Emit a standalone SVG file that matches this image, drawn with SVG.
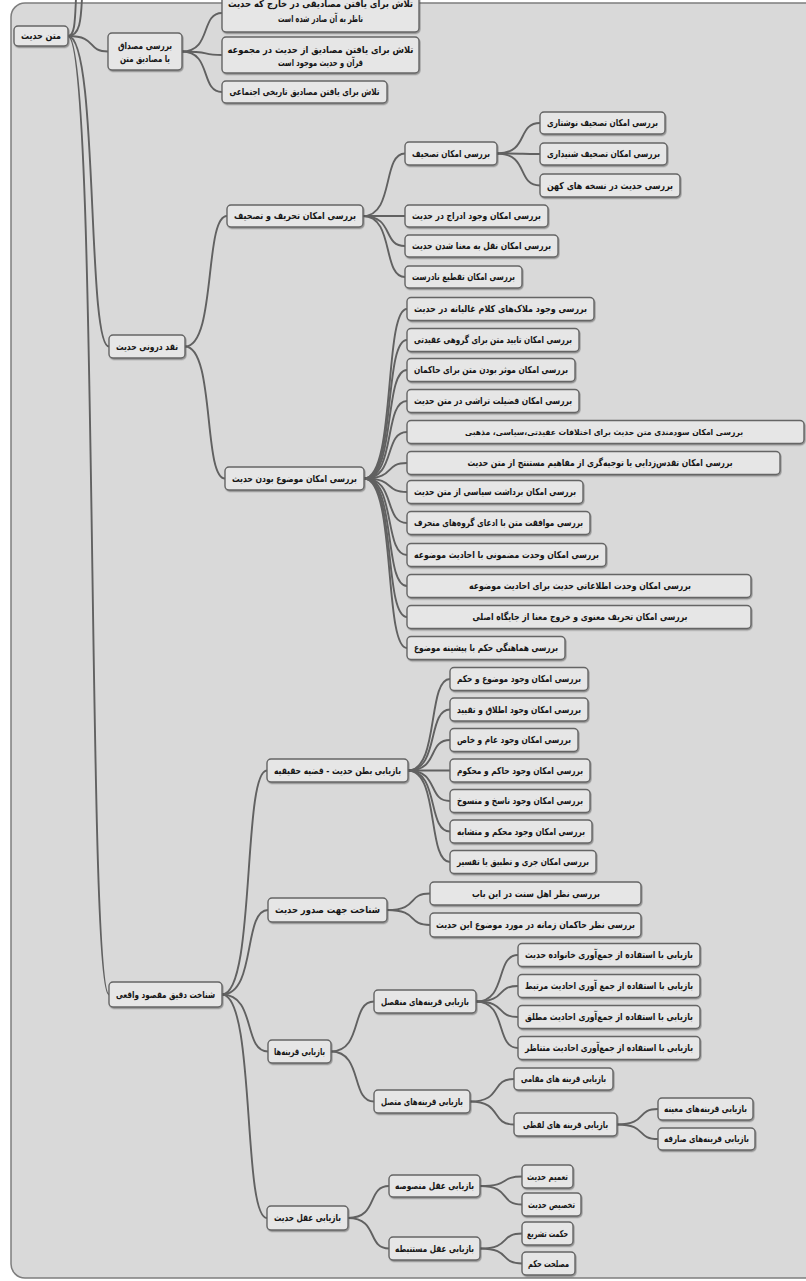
<svg xmlns="http://www.w3.org/2000/svg" width="806" height="1281" viewBox="0 0 806 1281">
<defs>
<filter id="sh" x="-10%" y="-30%" width="120%" height="170%">
<feDropShadow dx="0.8" dy="1.3" stdDeviation="0.5" flood-color="#3a3a3a" flood-opacity="0.45"/>
</filter>
<style>
.node rect{fill:#e6e6e6;stroke:#656565;stroke-width:1.4;filter:url(#sh)}
.node text{font-family:"DejaVu Sans",sans-serif;font-weight:bold;font-size:9.5px;fill:#151515;text-anchor:middle;direction:rtl}
.node text.sm{font-size:8.3px}
#connectors path{fill:none;stroke:#616161;stroke-width:1.9;stroke-linecap:round}
</style>
</defs>
<rect x="0" y="0" width="806" height="1281" fill="#ffffff"/>
<rect x="11" y="3" width="830" height="1275" rx="14" fill="#d9d9d9" stroke="#7d7d7d" stroke-width="1.5"/>

<g id="connectors">
<path d="M68 36 C98 36 86 51.5 108 51.5"/>
<path d="M68 36 C98.75 36 86.45 346.5 109 346.5"/>
<path d="M68 36 C98.75 36 86.45 994.5 109 994.5"/>
<path d="M68 36 C75 36 75 20 76 -2"/>
<path d="M68 36 C80 36 81 20 82 -2"/>
<path d="M182 51.5 C212 51.5 200 13 222 13"/>
<path d="M182 51.5 C212 51.5 200 55 222 55"/>
<path d="M182 51.5 C212 51.5 200 92 222 92"/>
<path d="M185 346.5 C216.5 346.5 203.9 216 227 216"/>
<path d="M185 346.5 C215 346.5 203 478.5 225 478.5"/>
<path d="M363 216 C394.5 216 381.9 153.5 405 153.5"/>
<path d="M363 216 L405 216"/>
<path d="M363 216 C394.5 216 381.9 246 405 246"/>
<path d="M363 216 C394.5 216 381.9 277 405 277"/>
<path d="M497 153.5 C529.25 153.5 516.35 123 540 123"/>
<path d="M497 153.5 C529.25 153.5 516.35 154 540 154"/>
<path d="M497 153.5 C529.25 153.5 516.35 185.5 540 185.5"/>
<path d="M364 478.5 C396.25 478.5 383.35 309 407 309"/>
<path d="M364 478.5 C396.25 478.5 383.35 340 407 340"/>
<path d="M364 478.5 C396.25 478.5 383.35 370 407 370"/>
<path d="M364 478.5 C396.25 478.5 383.35 401 407 401"/>
<path d="M364 478.5 C396.25 478.5 383.35 432 407 432"/>
<path d="M364 478.5 C396.25 478.5 383.35 463 407 463"/>
<path d="M364 478.5 C396.25 478.5 383.35 492 407 492"/>
<path d="M364 478.5 C396.25 478.5 383.35 523 407 523"/>
<path d="M364 478.5 C396.25 478.5 383.35 555 407 555"/>
<path d="M364 478.5 C396.25 478.5 383.35 586 407 586"/>
<path d="M364 478.5 C396.25 478.5 383.35 617 407 617"/>
<path d="M364 478.5 C396.25 478.5 383.35 648 407 648"/>
<path d="M222 994.5 C255.75 994.5 242.25 770.5 267 770.5"/>
<path d="M222 994.5 C256.5 994.5 242.7 910 268 910"/>
<path d="M222 994.5 C256.5 994.5 242.7 1051.5 268 1051.5"/>
<path d="M222 994.5 C255.75 994.5 242.25 1218 267 1218"/>
<path d="M408 770.5 C439.5 770.5 426.9 679 450 679"/>
<path d="M408 770.5 C439.5 770.5 426.9 709.5 450 709.5"/>
<path d="M408 770.5 C439.5 770.5 426.9 740 450 740"/>
<path d="M408 770.5 L450 770.5"/>
<path d="M408 770.5 C439.5 770.5 426.9 801 450 801"/>
<path d="M408 770.5 C439.5 770.5 426.9 831.5 450 831.5"/>
<path d="M408 770.5 C439.5 770.5 426.9 862 450 862"/>
<path d="M387 910 C419.25 910 406.35 893.5 430 893.5"/>
<path d="M387 910 C419.25 910 406.35 925 430 925"/>
<path d="M331 1051.5 C363.25 1051.5 350.35 1001.5 374 1001.5"/>
<path d="M331 1051.5 C363.25 1051.5 350.35 1101.5 374 1101.5"/>
<path d="M476 1001.5 C507.5 1001.5 494.9 955 518 955"/>
<path d="M476 1001.5 C507.5 1001.5 494.9 986 518 986"/>
<path d="M476 1001.5 C507.5 1001.5 494.9 1017 518 1017"/>
<path d="M476 1001.5 C507.5 1001.5 494.9 1048 518 1048"/>
<path d="M470 1101.5 C503 1101.5 489.8 1079 514 1079"/>
<path d="M470 1101.5 C503 1101.5 489.8 1124.5 514 1124.5"/>
<path d="M617 1124.5 C647.75 1124.5 635.45 1109 658 1109"/>
<path d="M617 1124.5 C647.75 1124.5 635.45 1139 658 1139"/>
<path d="M348 1218 C378.75 1218 366.45 1186 389 1186"/>
<path d="M348 1218 C378.75 1218 366.45 1248.5 389 1248.5"/>
<path d="M480 1186 C511.5 1186 498.9 1176.5 522 1176.5"/>
<path d="M480 1186 C511.5 1186 498.9 1204.5 522 1204.5"/>
<path d="M480 1248.5 C511.5 1248.5 498.9 1233.5 522 1233.5"/>
<path d="M480 1248.5 C511.5 1248.5 498.9 1263.5 522 1263.5"/>
</g>

<g id="n-root" class="node"><rect x="14" y="26" width="54" height="20" rx="4"/><text x="41" y="39.3" textLength="40" lengthAdjust="spacingAndGlyphs">متن حدیث</text></g>

<g id="n-a" class="node"><rect x="108" y="33" width="74" height="37" rx="4"/><text x="145" y="48.5" textLength="54" lengthAdjust="spacingAndGlyphs">بررسی مصداق</text><text x="145" y="61.5" textLength="50" lengthAdjust="spacingAndGlyphs">یا مصادیق متن</text></g>
<g id="n-a1" class="node"><rect x="222" y="-6" width="197" height="38" rx="4"/><text x="320.5" y="7" textLength="185" lengthAdjust="spacingAndGlyphs">تلاش برای یافتن مصادیقی در خارج که حدیث</text><text x="320.5" y="22" textLength="85" lengthAdjust="spacingAndGlyphs">ناظر به آن صادر شده است</text></g>
<g id="n-a2" class="node"><rect x="222" y="37" width="197" height="36" rx="4"/><text x="320.5" y="53" textLength="186" lengthAdjust="spacingAndGlyphs">تلاش برای یافتن مصادیق از حدیث در مجموعه</text><text x="320.5" y="65.5" textLength="85" lengthAdjust="spacingAndGlyphs">قرآن و حدیث موجود است</text></g>
<g id="n-a3" class="node"><rect x="222" y="81" width="165" height="22" rx="4"/><text x="304.5" y="95.3" textLength="150" lengthAdjust="spacingAndGlyphs">تلاش برای یافتن مصادیق تاریخی اجتماعی</text></g>

<g id="n-b" class="node"><rect x="109" y="335" width="76" height="23" rx="4"/><text x="147" y="349.8" textLength="62" lengthAdjust="spacingAndGlyphs">نقد درونی حدیث</text></g>
<g id="n-b1" class="node"><rect x="227" y="205" width="136" height="22" rx="4"/><text x="295" y="219.3" textLength="122" lengthAdjust="spacingAndGlyphs">بررسی امکان تحریف و تصحیف</text></g>
<g id="n-b1a" class="node"><rect x="405" y="142" width="92" height="23" rx="4"/><text x="451" y="156.8" textLength="78" lengthAdjust="spacingAndGlyphs">بررسی امکان تصحیف</text></g>
<g id="n-b1a1" class="node"><rect x="540" y="112" width="125" height="22" rx="4"/><text x="602.5" y="126.3" textLength="111" lengthAdjust="spacingAndGlyphs">بررسی امکان تصحیف نوشتاری</text></g>
<g id="n-b1a2" class="node"><rect x="540" y="143" width="127" height="22" rx="4"/><text x="603.5" y="157.3" textLength="113" lengthAdjust="spacingAndGlyphs">بررسی امکان تصحیف شنیداری</text></g>
<g id="n-b1a3" class="node"><rect x="540" y="174" width="140" height="23" rx="4"/><text x="610" y="188.8" textLength="126" lengthAdjust="spacingAndGlyphs">بررسی حدیث در نسخه های کهن</text></g>
<g id="n-b1b" class="node"><rect x="405" y="205" width="143" height="22" rx="4"/><text x="476.5" y="219.3" textLength="129" lengthAdjust="spacingAndGlyphs">بررسی امکان وجود ادراج در حدیث</text></g>
<g id="n-b1c" class="node"><rect x="405" y="235" width="153" height="22" rx="4"/><text x="481.5" y="249.3" textLength="139" lengthAdjust="spacingAndGlyphs">بررسی امکان نقل به معنا شدن حدیث</text></g>
<g id="n-b1d" class="node"><rect x="405" y="266" width="117" height="22" rx="4"/><text x="463.5" y="280.3" textLength="103" lengthAdjust="spacingAndGlyphs">بررسی امکان تقطیع نادرست</text></g>

<g id="n-b2" class="node"><rect x="225" y="467" width="139" height="23" rx="4"/><text x="294.5" y="481.8" textLength="125" lengthAdjust="spacingAndGlyphs">بررسی امکان موضوع بودن حدیث</text></g>
<g id="n-b2-1" class="node"><rect x="407" y="297.5" width="187" height="23" rx="4"/><text x="500.5" y="312.3" textLength="173" lengthAdjust="spacingAndGlyphs">بررسی وجود ملاک&#x200C;های کلام غالیانه در حدیث</text></g>
<g id="n-b2-2" class="node"><rect x="407" y="328.5" width="172" height="23" rx="4"/><text x="493" y="343.3" textLength="158" lengthAdjust="spacingAndGlyphs">بررسی امکان تایید متن برای گروهی عقیدتی</text></g>
<g id="n-b2-3" class="node"><rect x="407" y="358.5" width="168" height="23" rx="4"/><text x="491" y="373.3" textLength="154" lengthAdjust="spacingAndGlyphs">بررسی امکان موثر بودن متن برای حاکمان</text></g>
<g id="n-b2-4" class="node"><rect x="407" y="389.5" width="172" height="23" rx="4"/><text x="493" y="404.3" textLength="158" lengthAdjust="spacingAndGlyphs">بررسی امکان فضیلت تراشی در متن حدیث</text></g>
<g id="n-b2-5" class="node"><rect x="407" y="420.5" width="397" height="23" rx="4"/><text class="sm" x="604" y="435" textLength="278" lengthAdjust="spacingAndGlyphs">بررسی امکان سودمندی متن حدیث برای اختلافات عقیدتی،سیاسی، مذهبی</text></g>
<g id="n-b2-6" class="node"><rect x="407" y="451.5" width="373" height="23" rx="4"/><text x="600" y="466.3" textLength="265" lengthAdjust="spacingAndGlyphs">بررسی امکان تقدس&#x200C;زدایی یا توجیه&#x200C;گری از مفاهیم مستنتج از متن حدیث</text></g>
<g id="n-b2-7" class="node"><rect x="407" y="480.5" width="176" height="23" rx="4"/><text x="495" y="495.3" textLength="162" lengthAdjust="spacingAndGlyphs">بررسی امکان برداشت سیاسی از متن حدیث</text></g>
<g id="n-b2-8" class="node"><rect x="407" y="511.5" width="183" height="23" rx="4"/><text x="498.5" y="526.3" textLength="169" lengthAdjust="spacingAndGlyphs">بررسی موافقت متن با ادعای گروه&#x200C;های منحرف</text></g>
<g id="n-b2-9" class="node"><rect x="407" y="543.5" width="199" height="23" rx="4"/><text x="506.5" y="558.3" textLength="185" lengthAdjust="spacingAndGlyphs">بررسی امکان وحدت مضمونی با احادیث موضوعه</text></g>
<g id="n-b2-10" class="node"><rect x="407" y="574.5" width="344" height="23" rx="4"/><text x="580" y="589.3" textLength="222" lengthAdjust="spacingAndGlyphs">بررسی امکان وحدت اطلاعاتی حدیث برای احادیث موضوعه</text></g>
<g id="n-b2-11" class="node"><rect x="407" y="605.5" width="344" height="23" rx="4"/><text x="580" y="620.3" textLength="215" lengthAdjust="spacingAndGlyphs">بررسی امکان تحریف معنوی و خروج معنا از جایگاه اصلی</text></g>
<g id="n-b2-12" class="node"><rect x="407" y="636.5" width="158" height="23" rx="4"/><text x="486" y="651.3" textLength="144" lengthAdjust="spacingAndGlyphs">بررسی هماهنگی حکم با پیشینه موضوع</text></g>

<g id="n-c" class="node"><rect x="109" y="982" width="113" height="25" rx="4"/><text x="165.5" y="997.8" textLength="99" lengthAdjust="spacingAndGlyphs">شناخت دقیق مقصود واقعی</text></g>
<g id="n-c1" class="node"><rect x="267" y="759" width="141" height="23" rx="4"/><text x="337.5" y="773.8" textLength="127" lengthAdjust="spacingAndGlyphs">بازیابی بطن حدیث - قضیه حقیقیه</text></g>
<g id="n-c1-1" class="node"><rect x="450" y="667.5" width="138" height="23" rx="4"/><text x="519" y="682.3" textLength="124" lengthAdjust="spacingAndGlyphs">بررسی امکان وجود موضوع و حکم</text></g>
<g id="n-c1-2" class="node"><rect x="450" y="698" width="138" height="23" rx="4"/><text x="519" y="712.8" textLength="124" lengthAdjust="spacingAndGlyphs">بررسی امکان وجود اطلاق و تقیید</text></g>
<g id="n-c1-3" class="node"><rect x="450" y="728.5" width="128" height="23" rx="4"/><text x="514" y="743.3" textLength="114" lengthAdjust="spacingAndGlyphs">بررسی امکان وجود عام و خاص</text></g>
<g id="n-c1-4" class="node"><rect x="450" y="759" width="140" height="23" rx="4"/><text x="520" y="773.8" textLength="126" lengthAdjust="spacingAndGlyphs">بررسی امکان وجود حاکم و محکوم</text></g>
<g id="n-c1-5" class="node"><rect x="450" y="789.5" width="140" height="23" rx="4"/><text x="520" y="804.3" textLength="126" lengthAdjust="spacingAndGlyphs">بررسی امکان وجود ناسخ و منسوخ</text></g>
<g id="n-c1-6" class="node"><rect x="450" y="820" width="142" height="23" rx="4"/><text x="521" y="834.8" textLength="128" lengthAdjust="spacingAndGlyphs">بررسی امکان وجود محکم و متشابه</text></g>
<g id="n-c1-7" class="node"><rect x="450" y="850.5" width="146" height="23" rx="4"/><text x="523" y="865.3" textLength="132" lengthAdjust="spacingAndGlyphs">بررسی امکان جری و تطبیق یا تفسیر</text></g>

<g id="n-c2" class="node"><rect x="268" y="898" width="119" height="24" rx="4"/><text x="327.5" y="913.3" textLength="105" lengthAdjust="spacingAndGlyphs">شناخت جهت صدور حدیث</text></g>
<g id="n-c2-1" class="node"><rect x="430" y="882" width="211" height="23" rx="4"/><text x="536" y="896.8" textLength="128" lengthAdjust="spacingAndGlyphs">بررسی نظر اهل سنت در این باب</text></g>
<g id="n-c2-2" class="node"><rect x="430" y="913" width="211" height="24" rx="4"/><text x="535.5" y="928.3" textLength="199" lengthAdjust="spacingAndGlyphs">بررسی نظر حاکمان زمانه در مورد موضوع این حدیث</text></g>

<g id="n-c3" class="node"><rect x="268" y="1040" width="63" height="23" rx="4"/><text x="299.5" y="1054.8" textLength="51" lengthAdjust="spacingAndGlyphs">بازیابی قرینه&#x200C;ها</text></g>
<g id="n-c3a" class="node"><rect x="374" y="990" width="102" height="23" rx="4"/><text x="425" y="1004.8" textLength="88" lengthAdjust="spacingAndGlyphs">بازیابی قرینه&#x200C;های منفصل</text></g>
<g id="n-c3a-1" class="node"><rect x="518" y="943.5" width="182" height="23" rx="4"/><text x="609" y="958.3" textLength="168" lengthAdjust="spacingAndGlyphs">بازیابی با استفاده از جمع&#x200C;آوری خانواده حدیث</text></g>
<g id="n-c3a-2" class="node"><rect x="518" y="974.5" width="182" height="23" rx="4"/><text x="609" y="989.3" textLength="168" lengthAdjust="spacingAndGlyphs">بازیابی با استفاده از جمع آوری احادیث مرتبط</text></g>
<g id="n-c3a-3" class="node"><rect x="518" y="1005.5" width="182" height="23" rx="4"/><text x="609" y="1020.3" textLength="168" lengthAdjust="spacingAndGlyphs">بازیابی با استفاده از جمع&#x200C;آوری  احادیث مطلق</text></g>
<g id="n-c3a-4" class="node"><rect x="518" y="1036.5" width="182" height="23" rx="4"/><text x="609" y="1051.3" textLength="168" lengthAdjust="spacingAndGlyphs">بازیابی با استفاده از جمع&#x200C;آوری احادیث متناظر</text></g>
<g id="n-c3b" class="node"><rect x="374" y="1090" width="96" height="23" rx="4"/><text x="422" y="1104.8" textLength="82" lengthAdjust="spacingAndGlyphs">بازیابی قرینه&#x200C;های متصل</text></g>
<g id="n-c3b-1" class="node"><rect x="514" y="1068" width="99" height="22" rx="4"/><text x="563.5" y="1082.3" textLength="85" lengthAdjust="spacingAndGlyphs">بازیابی قرینه های مقامی</text></g>
<g id="n-c3b-2" class="node"><rect x="514" y="1113" width="103" height="23" rx="4"/><text x="565.5" y="1127.8" textLength="85" lengthAdjust="spacingAndGlyphs">بازیابی قرینه های  لفظی</text></g>
<g id="n-c3b-2a" class="node"><rect x="658" y="1098" width="95" height="22" rx="4"/><text x="705.5" y="1112.3" textLength="83" lengthAdjust="spacingAndGlyphs">بازیابی قرینه&#x200C;های معینه</text></g>
<g id="n-c3b-2b" class="node"><rect x="658" y="1128" width="97" height="22" rx="4"/><text x="706.5" y="1142.3" textLength="85" lengthAdjust="spacingAndGlyphs">بازیابی قرینه&#x200C;های صارفه</text></g>

<g id="n-c4" class="node"><rect x="267" y="1206" width="81" height="24" rx="4"/><text x="307.5" y="1221.3" textLength="67" lengthAdjust="spacingAndGlyphs">بازیابی عقل  حدیث</text></g>
<g id="n-c4a" class="node"><rect x="389" y="1175" width="91" height="22" rx="4"/><text x="434.5" y="1189.3" textLength="79" lengthAdjust="spacingAndGlyphs">بازیابی عقل منصوصه</text></g>
<g id="n-c4a-1" class="node"><rect x="522" y="1165" width="51" height="23" rx="4"/><text x="547.5" y="1179.8" textLength="41" lengthAdjust="spacingAndGlyphs">تعمیم حدیث</text></g>
<g id="n-c4a-2" class="node"><rect x="522" y="1193" width="59" height="23" rx="4"/><text x="551.5" y="1207.8" textLength="47" lengthAdjust="spacingAndGlyphs">تخصیص حدیث</text></g>
<g id="n-c4b" class="node"><rect x="389" y="1237" width="91" height="23" rx="4"/><text x="434.5" y="1251.8" textLength="79" lengthAdjust="spacingAndGlyphs">بازیابی عقل مستنبطه</text></g>
<g id="n-c4b-1" class="node"><rect x="522" y="1222" width="51" height="23" rx="4"/><text x="547.5" y="1236.8" textLength="41" lengthAdjust="spacingAndGlyphs">حکمت تشریع</text></g>
<g id="n-c4b-2" class="node"><rect x="522" y="1252" width="53" height="23" rx="4"/><text x="548.5" y="1266.8" textLength="41" lengthAdjust="spacingAndGlyphs">مصلحت حکم</text></g>
</svg>
